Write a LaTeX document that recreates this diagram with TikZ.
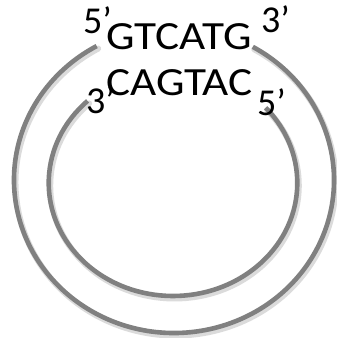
\documentclass[tikz,border=0pt]{standalone}
\usepackage{fontspec}
\setmainfont{Carlito}
\usepackage{graphicx}
\newcommand\wideseq[1]{\scalebox{1.13}[1]{\fontsize{40}{48}\selectfont#1}}
\begin{document}
\begin{tikzpicture}[x=1pt,y=-1pt,
  strand/.style={line width=4.6pt,color={rgb,255:red,128;green,128;blue,128}},
  strandshadow/.style={line width=6pt,color=black!14,line cap=round},
  lbl/.style={inner sep=0pt,anchor=base west,font=\fontsize{38}{46}\selectfont}]
\useasboundingbox (0,0) rectangle (337,338);
% outer strand (ellipse arc, open at the top)
\def\ocx{174}\def\ocy{180}\def\orx{160}\def\ory{153}
\def\os{-60.5}\def\oe{241.1}
% inner strand
\def\icx{173}\def\icy{183}\def\irx{124.3}\def\iry{113}
\def\is{-41.8}\def\ie{226.6}
% soft shadows
\draw[strandshadow] ({\ocx+1.5+\orx*cos(\os)},{\ocy+2.5+\ory*sin(\os)})
  arc[start angle=\os,end angle=\oe,x radius=\orx,y radius=\ory];
\draw[strandshadow] ({\icx+1.5+\irx*cos(\is)},{\icy+2.5+\iry*sin(\is)})
  arc[start angle=\is,end angle=\ie,x radius=\irx,y radius=\iry];
% strands
\draw[strand] ({\ocx+\orx*cos(\os)},{\ocy+\ory*sin(\os)})
  arc[start angle=\os,end angle=\oe,x radius=\orx,y radius=\ory];
\draw[strand] ({\icx+\irx*cos(\is)},{\icy+\iry*sin(\is)})
  arc[start angle=\is,end angle=\ie,x radius=\irx,y radius=\iry];
% sequences and end labels
\node[lbl] (top5) at (83,33) {5’};
\node[lbl] (topseq) at (106,49.5) {\wideseq{GTCATG}};
\node[lbl] (top3) at (261,32) {3’};
\node[lbl] (botseq) at (106,95) {\wideseq{CAGTAC}};
\node[lbl] (bot3) at (86,113) {3’};
\node[lbl] (bot5) at (257,115) {5’};
\end{tikzpicture}
\end{document}
